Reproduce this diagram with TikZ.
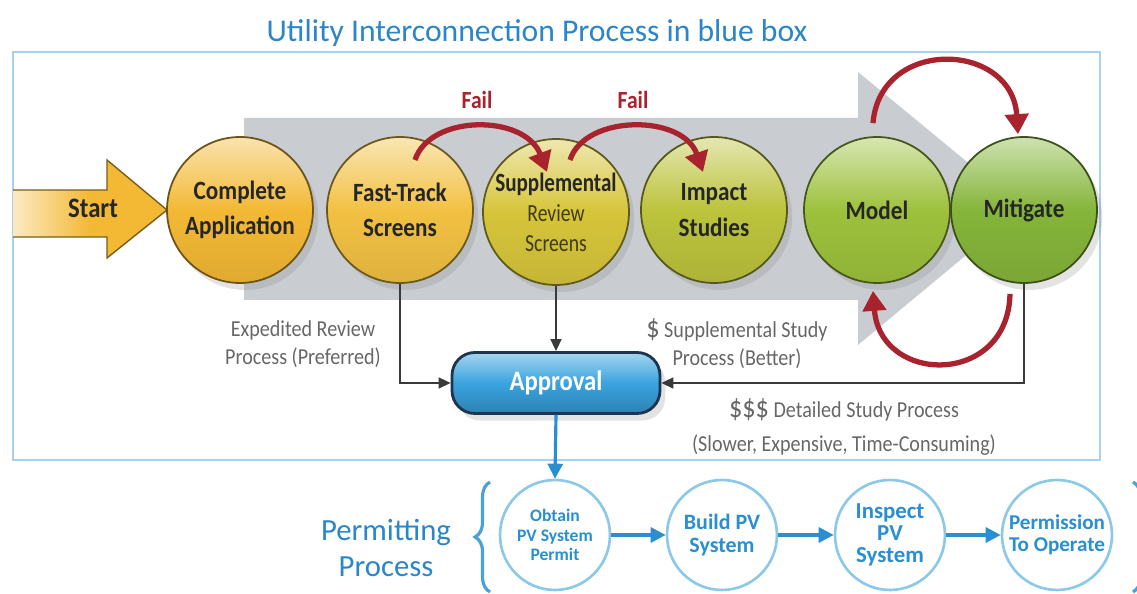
\documentclass[tikz,border=0pt]{standalone}
\usepackage{fontspec}
\setmainfont{Carlito}
\newfontfamily\narrowfont[FakeStretch=0.88]{Carlito}
\newfontfamily\narrowerfont[FakeStretch=0.8]{Carlito}
\usepackage{tikz}
\usetikzlibrary{shapes.geometric, arrows.meta, positioning, calc, shadows, decorations.pathreplacing}
\definecolor{titleblue}{HTML}{2B86C8}
\definecolor{boxblue}{HTML}{A9D0EC}
\definecolor{flowgray}{HTML}{C9CDD2}
\definecolor{failred}{HTML}{A8232D}
\definecolor{notegray}{HTML}{676767}
\definecolor{linedark}{HTML}{3A3A3A}
\definecolor{approvalblue}{HTML}{3AA3DE}
\definecolor{approvaledge}{HTML}{1D3550}
\definecolor{permitblue}{HTML}{2A8FD0}
\definecolor{permitring}{HTML}{8CC8E8}
\definecolor{appyellow}{HTML}{F3B935}
\definecolor{fastyellow}{HTML}{F2C143}
\definecolor{suppolive}{HTML}{D6C53A}
\definecolor{impactolive}{HTML}{BCC33C}
\definecolor{modelgreen}{HTML}{9DC13C}
\definecolor{mitiggreen}{HTML}{85B53A}

\begin{document}
\begin{tikzpicture}[
    x=0.02cm, y=0.02cm,
    stagenode/.style={circle, draw=#1!45!black, line width=1pt, top color=#1!40!white, bottom color=#1!92!black,
                      middle color=#1, minimum size=2.92cm, inner sep=0pt, align=center, text=black!85,
                      font=\narrowfont\fontsize{15}{20}\selectfont\bfseries,
                      drop shadow={opacity=0.22, shadow xshift=3pt, shadow yshift=-4pt}},
    permitnode/.style={circle, draw=permitring, line width=1.5pt, fill=white, minimum size=2.2cm, inner sep=0pt,
                       align=center, text=permitblue, font=\fontsize{10}{11}\selectfont\bfseries},
    notetext/.style={align=center, text=notegray, font=\narrowfont\fontsize{13}{16}\selectfont},
    conn/.style={-{Triangle[length=2.4mm,width=2.2mm]}, line width=0.9pt, linedark},
    failarc/.style={-{Triangle[length=4mm,width=4.6mm]}, line width=3pt, failred},
    permitconn/.style={-{Triangle[length=3mm,width=3mm]}, line width=1.8pt, permitblue}
]
    \useasboundingbox (0,0) rectangle (1137,594);
    \fill[white] (0,0) rectangle (1137,594);

    \node[text=titleblue, font=\fontsize{18}{20}\selectfont] (title) at (537,561) {Utility Interconnection Process in blue box};
    \draw[boxblue, line width=1.2pt] (13,134) rectangle (1100,542);

    \fill[flowgray] (244,294) -- (244,476) -- (858,476) -- (858,522) -- (1023,386) -- (858,249) -- (858,294) -- cycle;

    \path[draw=appyellow!50!black, line width=0.8pt, left color=appyellow!30, right color=appyellow, middle color=appyellow]
        (13,404) -- (107,404) -- (107,434) -- (167,384) -- (107,336) -- (107,357) -- (13,357);
    \node[font=\narrowfont\fontsize{16}{18}\selectfont\bfseries, text=black!85] (start) at (93,386) {Start};

    \node[stagenode=appyellow] (app) at (240,384) {Complete\\Application};
    \node[stagenode=fastyellow] (fast) at (400,384) {Fast-Track\\Screens};
    \node[stagenode=suppolive, font=\narrowerfont\fontsize{15}{17}\selectfont\bfseries] (supp) at (556,382)
        {Supplemental\\{\mdseries\fontsize{14}{14}\selectfont\color{black!70!suppolive}Review}\\{\mdseries\fontsize{14}{14}\selectfont\color{black!70!suppolive}Screens}};
    \node[stagenode=impactolive] (impact) at (714,384) {Impact\\Studies};
    \node[stagenode=modelgreen] (model) at (877,384) {Model};
    \node[stagenode=mitiggreen] (mitig) at (1024,384) {Mitigate};

    \node[text=failred, font=\narrowfont\fontsize{14}{16}\selectfont\bfseries] (fail1) at (477,494) {Fail};
    \node[text=failred, font=\narrowfont\fontsize{14}{16}\selectfont\bfseries] (fail2) at (633,494) {Fail};

    \draw[failarc] ($(fast.center)+(15,50)$) .. controls +(15,46) and +(-22,58) .. ($(supp.center)+(-9,40)$);
    \draw[failarc] ($(supp.center)+(14,52)$) .. controls +(15,46) and +(-20,58) .. ($(impact.center)+(-11,38)$);
    \draw[failarc] ($(model.north)+(-4,13)$) .. controls +(7,86) and +(-6,93) .. ($(mitig.north)+(-6,2)$);
    \draw[failarc] ($(mitig.south)+(-14,-10)$) .. controls +(-2,-93) and +(7,-94) .. ($(model.south)+(-4,-7)$);

    \node[rectangle, rounded corners=13pt, draw=approvaledge, line width=1.6pt, top color=approvalblue!45!white,
          bottom color=approvalblue!80!black, middle color=approvalblue, minimum width=4.16cm, minimum height=1.22cm,
          text=white, font=\narrowfont\fontsize{16}{18}\selectfont\bfseries,
          drop shadow={opacity=0.22, shadow xshift=3pt, shadow yshift=-4pt}] (approval) at (556,211) {Approval};

    \draw[conn] (fast.south) |- (approval.west);
    \draw[conn] (supp.south) -- (approval.north);
    \draw[conn] (mitig.south) |- (approval.east);

    \node[notetext] (expedited) at (303,250) {Expedited Review\\Process (Preferred)};
    \node[notetext] (supplemental) at (737,250) {{\fontsize{17}{16}\selectfont\$} Supplemental Study\\Process (Better)};
    \node[notetext, font=\narrowfont\fontsize{13}{19}\selectfont] (detailed) at (844,167) {{\fontsize{17}{16}\selectfont\$\$\$} Detailed Study Process\\(Slower, Expensive, Time-Consuming)};

    \node[text=titleblue, align=center, font=\fontsize{17.5}{21}\selectfont] (permitting) at (386,46) {Permitting\\Process};
    \draw[permitblue!85, line width=1.8pt, decorate, decoration={brace, amplitude=8.5pt}] (490,2) -- (490,112);
    \draw[permitblue!85, line width=1.8pt, decorate, decoration={brace, amplitude=8.5pt}] (1133,112) -- (1133,2);

    \node[permitnode] (obtain) at (555,59) {Obtain\\PV System\\Permit};
    \node[permitnode, font=\fontsize{12.5}{13.5}\selectfont\bfseries] (build) at (722,59) {Build PV\\System};
    \node[permitnode, font=\fontsize{13}{12.5}\selectfont\bfseries] (inspect) at (890,59) {Inspect\\PV\\System};
    \node[permitnode, font=\fontsize{12}{12.5}\selectfont\bfseries] (operate) at (1057,59) {Permission\\To Operate};

    \draw[permitconn] (approval.south) -- (obtain.north);
    \draw[permitconn] (obtain) -- (build);
    \draw[permitconn] (build) -- (inspect);
    \draw[permitconn] (inspect) -- (operate);
\end{tikzpicture}
\end{document}
